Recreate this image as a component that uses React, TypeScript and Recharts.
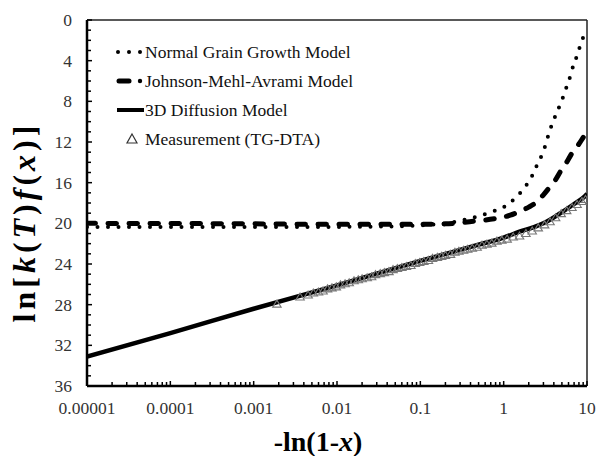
import React from 'react';
import { ComposedChart, Line, Scatter, XAxis, YAxis, ReferenceLine } from 'recharts';

// ---- axis ticks ----
const xDecades = [0.00001, 0.0001, 0.001, 0.01, 0.1, 1, 10];
const xDecadeLabels = ['0.00001', '0.0001', '0.001', '0.01', '0.1', '1', '10'];
const xMinorMultipliers = [2, 3, 4, 5, 6, 7, 8, 9];
const yMajorTicks = [0, 4, 8, 12, 16, 20, 24, 28, 32, 36];
const yMinorStep = 1;

const seriesNames = [
  'Normal Grain Growth Model',
  'Johnson-Mehl-Avrami Model',
  '3D Diffusion Model',
  'Measurement (TG-DTA)',
];

// ---- Normal Grain Growth Model (dotted) ----
const grainX = [0.00001, 0.0001, 0.001, 0.01, 0.05, 0.1, 0.2, 0.3, 0.5, 0.7, 1.0, 1.2, 1.5, 1.85, 2.2, 2.5, 3.0, 3.6, 4.0, 4.5, 5.0, 5.5, 6.1, 6.6, 7.3, 8.0, 8.9, 10];
const grainY = [20.35, 20.35, 20.35, 20.35, 20.3, 20.2, 20.0, 19.75, 19.3, 18.9, 18.4, 17.95, 17.2, 16.3, 15.3, 14.3, 12.9, 10.8, 9.8, 8.8, 7.9, 6.9, 5.9, 4.9, 3.9, 2.9, 1.8, 1.0];

// ---- Johnson-Mehl-Avrami Model (dashed) ----
const jmaX = [0.00001, 0.001, 0.01, 0.1, 0.2, 0.43, 0.83, 1.2, 1.58, 2.0, 2.5, 3.0, 3.6, 4.2, 4.8, 5.6, 6.6, 8.0, 9.25, 10];
const jmaY = [20.0, 20.05, 20.1, 20.1, 20.05, 19.8, 19.5, 19.2, 18.8, 18.4, 17.9, 17.2, 16.4, 15.7, 14.9, 14.1, 13.1, 12.2, 11.4, 11.0];

// ---- 3D Diffusion Model (solid) ----
const diffX = [0.00001, 0.0001, 0.001, 0.01, 0.1, 0.5, 1.0, 1.58, 2.26, 3.0, 4.8, 7.0, 9.25, 10];
const diffY = [33.1, 30.8, 28.4, 26.1, 23.7, 22.1, 21.4, 20.8, 20.4, 20.0, 19.0, 18.1, 17.4, 17.1];

// ---- Measurement (TG-DTA) (triangles) ----
const measX = [0.0019, 0.0036, 0.0045, 0.0052, 0.006, 0.0068, 0.0077, 0.0087, 0.0098, 0.011, 0.0125, 0.014, 0.016, 0.018, 0.02, 0.023, 0.026, 0.029, 0.033, 0.037, 0.042, 0.047, 0.053, 0.06, 0.068, 0.077, 0.087, 0.098, 0.11, 0.125, 0.14, 0.16, 0.18, 0.2, 0.23, 0.26, 0.29, 0.33, 0.37, 0.42, 0.48, 0.55, 0.63, 0.72, 0.83, 0.95, 1.1, 1.3, 1.55, 1.85, 2.2, 2.6, 3.1, 3.6, 4.2, 4.9, 5.7, 6.6, 7.6, 8.7, 9.6];
const measY = [27.9, 27.2, 27.0, 26.8, 26.7, 26.6, 26.4, 26.3, 26.2, 26.0, 25.9, 25.8, 25.6, 25.5, 25.4, 25.3, 25.2, 25.0, 24.9, 24.8, 24.7, 24.5, 24.4, 24.3, 24.2, 24.1, 23.9, 23.8, 23.7, 23.6, 23.4, 23.3, 23.2, 23.1, 23.0, 22.8, 22.7, 22.6, 22.5, 22.4, 22.3, 22.1, 22.0, 21.9, 21.7, 21.6, 21.5, 21.3, 21.2, 20.95, 20.7, 20.4, 20.1, 19.8, 19.4, 19.0, 18.7, 18.4, 18.1, 17.8, 17.6];

const zip = (xs: number[], ys: number[]) => xs.map((x, i) => ({ x, y: ys[i] }));
const grainData = zip(grainX, grainY);
const jmaData = zip(jmaX, jmaY);
const diffData = zip(diffX, diffY);
const measData = zip(measX, measY);

const xTicksAll: number[] = [];
xDecades.forEach((d, i) => {
  xTicksAll.push(d);
  if (i < xDecades.length - 1) xMinorMultipliers.forEach((m) => xTicksAll.push(d * m));
});
const yTicksAll: number[] = [];
for (let v = yMajorTicks[0]; v <= yMajorTicks[yMajorTicks.length - 1]; v += yMinorStep) yTicksAll.push(v);

const FONT = 'Liberation Serif';
const TICK_COLOR = '#333';
const serif = { fontFamily: FONT };

const XTick = (props: any) => {
  const { x, y, payload } = props;
  const v = payload.value;
  const idx = xDecades.findIndex((d) => Math.abs(d - v) / d < 1e-6);
  const major = idx >= 0;
  return (
    <g>
      <line x1={x} x2={x} y1={y} y2={y - (major ? 5 : 4)} stroke="#000" strokeWidth={1.5} />
      {major && (
        <text x={x} y={y + 28} textAnchor="middle" style={serif} fontSize={17.5} fill={TICK_COLOR}>
          {xDecadeLabels[idx]}
        </text>
      )}
    </g>
  );
};

const YTick = (props: any) => {
  const { x, y, payload } = props;
  const v = payload.value;
  const major = yMajorTicks.includes(v);
  return (
    <g>
      <line x1={x} x2={x + (major ? 5 : 4)} y1={y} y2={y} stroke="#000" strokeWidth={1.5} />
      {major && (
        <text x={x - 15} y={y} dy="0.35em" textAnchor="end" style={serif} fontSize={17.5} fill={TICK_COLOR}>
          {v}
        </text>
      )}
    </g>
  );
};

const Tri = (props: any) => {
  const { cx, cy } = props;
  if (cx == null || cy == null) return null;
  const h = 7;
  const w = 8.5;
  return (
    <path
      d={`M${cx},${cy - h / 2} L${cx + w / 2},${cy + h / 2} L${cx - w / 2},${cy + h / 2} Z`}
      fill="none"
      stroke="#777"
      strokeWidth={1.1}
    />
  );
};

export default function App() {
  return (
    <div style={{ position: 'absolute', left: 0, top: 0, width: 597, height: 456, background: '#fff' }}>
      <ComposedChart width={597} height={456} margin={{ top: 20, right: 10, bottom: 40, left: 27 }}>
        <XAxis
          dataKey="x"
          type="number"
          scale="log"
          domain={[0.00001, 10]}
          allowDataOverflow
          ticks={xTicksAll}
          interval={0}
          tick={(p: any) => <XTick {...p} />}
          tickSize={0}
          tickMargin={0}
          tickLine={false}
          axisLine={{ stroke: '#000', strokeWidth: 2.5 }}
          height={30}
        />
        <YAxis
          type="number"
          domain={[0, 36]}
          reversed
          allowDataOverflow
          ticks={yTicksAll}
          interval={0}
          tick={(p: any) => <YTick {...p} />}
          tickSize={0}
          tickMargin={0}
          tickLine={false}
          axisLine={{ stroke: '#000', strokeWidth: 2.5 }}
          width={60}
        />
        <ReferenceLine y={0} stroke="#222" strokeWidth={1.5} />
        <ReferenceLine x={10} stroke="#222" strokeWidth={1.5} />
        <Scatter name={seriesNames[3]} data={measData} dataKey="y" shape={(p: any) => <Tri {...p} />} isAnimationActive={false} />
        <Line
          name={seriesNames[2]}
          data={diffData}
          dataKey="y"
          type="monotone"
          stroke="#000"
          strokeWidth={4.5}
          dot={false}
          isAnimationActive={false}
        />
        <Line
          name={seriesNames[1]}
          data={jmaData}
          dataKey="y"
          type="monotone"
          stroke="#000"
          strokeWidth={5}
          strokeDasharray="8.5 12.5"
          strokeLinecap="round"
          dot={false}
          isAnimationActive={false}
        />
        <Line
          name={seriesNames[0]}
          data={grainData}
          dataKey="y"
          type="monotone"
          stroke="#000"
          strokeWidth={4}
          strokeDasharray="0 10.5"
          strokeLinecap="round"
          dot={false}
          isAnimationActive={false}
        />
      </ComposedChart>
      <svg
        width={597}
        height={456}
        style={{ position: 'absolute', left: 0, top: 0, pointerEvents: 'none' }}
      >
        {/* legend */}
        <g style={serif} fontSize={17.5} fill="#111">
          <circle cx={118} cy={52} r={2} fill="#000" />
          <circle cx={129} cy={52} r={2} fill="#000" />
          <circle cx={140} cy={52} r={2} fill="#000" />
          <text x={145} y={58} style={serif}>{seriesNames[0]}</text>

          <line x1={119} x2={129} y1={81} y2={81} stroke="#000" strokeWidth={5} strokeLinecap="round" />
          <circle cx={140} cy={81} r={2.2} fill="#000" />
          <text x={145} y={87} style={serif}>{seriesNames[1]}</text>

          <line x1={117} x2={144} y1={110} y2={110} stroke="#000" strokeWidth={4} />
          <text x={145} y={116} style={serif}>{seriesNames[2]}</text>

          <path d="M132,134 L137,143 L127,143 Z" fill="none" stroke="#333" strokeWidth={1.2} />
          <text x={145} y={145} style={serif}>{seriesNames[3]}</text>
        </g>
        {/* axis titles */}
        <text
          x={0}
          y={0}
          transform="translate(35,222) rotate(-90)"
          textAnchor="middle"
          style={serif}
          fontSize={32}
          fontWeight="bold"
          letterSpacing={4}
          fill="#000"
        >
          <tspan>ln[</tspan>
          <tspan fontStyle="italic">k</tspan>
          <tspan>(</tspan>
          <tspan fontStyle="italic">T</tspan>
          <tspan>)</tspan>
          <tspan fontStyle="italic">f</tspan>
          <tspan>(</tspan>
          <tspan fontStyle="italic">x</tspan>
          <tspan>)]</tspan>
        </text>
        <text x={318} y={451} textAnchor="middle" style={serif} fontSize={28} fontWeight="bold" fill="#000">
          <tspan>-ln(1-</tspan>
          <tspan fontStyle="italic">x</tspan>
          <tspan>)</tspan>
        </text>
      </svg>
    </div>
  );
}
